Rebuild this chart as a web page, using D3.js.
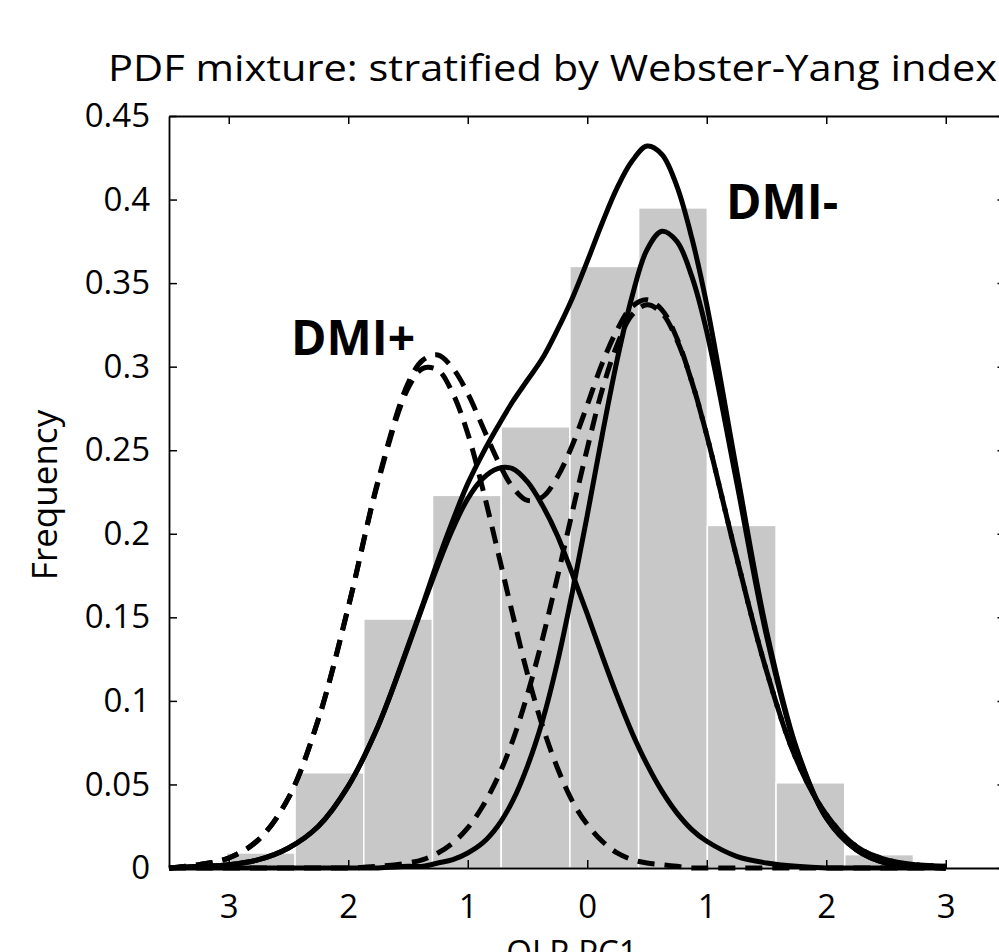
<!DOCTYPE html>
<html>
<head>
<meta charset="utf-8">
<script src="https://cdn.jsdelivr.net/npm/d3@7"></script>
<style>
  body { margin: 0; background: #fff; }
  svg { display: block; }
</style>
</head>
<body>
<div id="chart"></div>
<script>
const width = 999;
const height = 952;
const plotLeft = 169;
const plotRight = 1005.5;
const plotTop = 116;
const plotBottom = 868;

// histogram of OLR PC1
const binEdges = [-3.02, -2.445, -1.87, -1.295, -0.72, -0.145, 0.43, 1.005, 1.58, 2.155, 2.73];
const binFreq = [0.009, 0.057, 0.149, 0.223, 0.264, 0.360, 0.395, 0.205, 0.051, 0.008];

// x positions where the pdf curves were read
const xGrid = [-3.5, -3.25, -3.0, -2.75, -2.5, -2.25, -2.0, -1.75, -1.5, -1.375, -1.25, -1.125,
  -1.0, -0.875, -0.75, -0.625, -0.5, -0.375, -0.25, -0.125, 0, 0.125, 0.25, 0.375, 0.5, 0.625,
  0.75, 0.875, 1.0, 1.25, 1.5, 1.75, 2.0, 2.25, 2.5, 2.75, 3.0];

// solid curves (DMI-)
const minusLow = [0.000, 0.001, 0.002, 0.005, 0.012, 0.025, 0.049, 0.085, 0.132, 0.157, 0.181, 0.203,
  0.221, 0.233, 0.239, 0.239, 0.231, 0.217, 0.199, 0.176, 0.152, 0.127, 0.103, 0.081, 0.062, 0.046,
  0.033, 0.023, 0.016, 0.007, 0.003, 0.001, 0.000, 0.000, 0.000, 0.000, 0.000];
const minusHigh = [0.000, 0.000, 0.000, 0.000, 0.000, 0.000, 0.000, 0.000, 0.001, 0.001, 0.003, 0.005,
  0.009, 0.015, 0.025, 0.040, 0.061, 0.088, 0.123, 0.165, 0.211, 0.259, 0.304, 0.342, 0.370, 0.381,
  0.375, 0.354, 0.321, 0.231, 0.139, 0.071, 0.030, 0.011, 0.003, 0.001, 0.000];
const minusMix = [0.000, 0.001, 0.002, 0.005, 0.012, 0.025, 0.049, 0.085, 0.133, 0.158, 0.184, 0.208,
  0.230, 0.248, 0.264, 0.279, 0.292, 0.305, 0.322, 0.341, 0.363, 0.386, 0.407, 0.423, 0.432, 0.427,
  0.408, 0.377, 0.337, 0.238, 0.142, 0.072, 0.030, 0.011, 0.003, 0.001, 0.000];

// dashed curves (DMI+)
const plusLow = [0.000, 0.002, 0.006, 0.017, 0.042, 0.089, 0.156, 0.231, 0.287, 0.299, 0.298, 0.284,
  0.260, 0.227, 0.190, 0.152, 0.116, 0.085, 0.060, 0.040, 0.026, 0.016, 0.009, 0.005, 0.003, 0.002,
  0.001, 0.000, 0.000, 0.000, 0.000, 0.000, 0.000, 0.000, 0.000, 0.000, 0.000];
const plusHigh = [0.000, 0.000, 0.000, 0.000, 0.000, 0.000, 0.000, 0.001, 0.003, 0.005, 0.009, 0.015,
  0.024, 0.037, 0.054, 0.076, 0.104, 0.137, 0.174, 0.213, 0.251, 0.286, 0.313, 0.331, 0.337, 0.332,
  0.316, 0.291, 0.259, 0.186, 0.118, 0.065, 0.032, 0.013, 0.005, 0.002, 0.001];
const plusMix = [0.000, 0.002, 0.006, 0.017, 0.042, 0.089, 0.156, 0.232, 0.290, 0.304, 0.307, 0.299,
  0.284, 0.264, 0.244, 0.228, 0.220, 0.222, 0.234, 0.253, 0.277, 0.302, 0.322, 0.336, 0.340, 0.334,
  0.317, 0.291, 0.259, 0.186, 0.118, 0.065, 0.032, 0.013, 0.005, 0.002, 0.001];

const xTicks = [-3, -2, -1, 0, 1, 2, 3];
const xTickLabels = ["3", "2", "1", "0", "1", "2", "3"];
const yTicks = [0, 0.05, 0.1, 0.15, 0.2, 0.25, 0.3, 0.35, 0.4, 0.45];
const yTickLabels = ["0", "0.05", "0.1", "0.15", "0.2", "0.25", "0.3", "0.35", "0.4", "0.45"];

const font = "'Open Sans', 'Noto Sans', sans-serif";

const svg = d3.select("#chart")
  .append("svg")
  .attr("width", width)
  .attr("height", height)
  .style("background", "#fff");

const x = d3.scaleLinear().domain([-3.5, 3.5]).range([plotLeft, plotRight]);
const y = d3.scaleLinear().domain([0, 0.45]).range([plotBottom, plotTop]);

// bars
svg.append("g")
  .selectAll("rect")
  .data(binFreq)
  .join("rect")
  .attr("x", (d, i) => x(binEdges[i]))
  .attr("y", d => y(d))
  .attr("width", (d, i) => x(binEdges[i + 1]) - x(binEdges[i]))
  .attr("height", d => y(0) - y(d))
  .attr("fill", "#c8c8c8")
  .attr("stroke", "#fff")
  .attr("stroke-width", 1.5);

// axes
function styleAxis(g) {
  g.select(".domain").attr("stroke", "#000").attr("stroke-width", 1.8);
  g.selectAll(".tick line").attr("stroke", "#000").attr("stroke-width", 1.5);
  g.selectAll("text").attr("font-family", font).attr("font-size", 33).attr("fill", "#000");
}

svg.append("g")
  .attr("transform", `translate(0,${plotBottom})`)
  .call(d3.axisBottom(x).tickValues(xTicks).tickSize(-8).tickSizeOuter(0)
    .tickFormat((d, i) => xTickLabels[i]))
  .call(styleAxis)
  .call(g => g.selectAll("text").attr("y", 50).attr("dy", 0));

svg.append("g")
  .attr("transform", `translate(0,${plotTop})`)
  .call(d3.axisTop(x).tickValues(xTicks).tickSize(-8).tickSizeOuter(0).tickFormat(""))
  .call(styleAxis);

svg.append("g")
  .attr("transform", `translate(${plotLeft},0)`)
  .call(d3.axisLeft(y).tickValues(yTicks).tickSize(-8).tickSizeOuter(0).tickPadding(19)
    .tickFormat((d, i) => yTickLabels[i]))
  .call(styleAxis);

svg.append("g")
  .attr("transform", `translate(${plotRight},0)`)
  .call(d3.axisRight(y).tickValues(yTicks).tickSize(-8).tickSizeOuter(0).tickFormat(""))
  .call(styleAxis);

// curves
const line = d3.line()
  .x((d, i) => x(xGrid[i]))
  .y(d => y(d))
  .curve(d3.curveCatmullRom.alpha(0.5));

const curves = [
  { values: minusLow, dash: null },
  { values: minusHigh, dash: null },
  { values: minusMix, dash: null },
  { values: plusLow, dash: "17,10" },
  { values: plusHigh, dash: "17,10" },
  { values: plusMix, dash: "17,10" }
];

svg.append("g")
  .selectAll("path")
  .data(curves)
  .join("path")
  .attr("d", d => line(d.values))
  .attr("fill", "none")
  .attr("stroke", "#000")
  .attr("stroke-width", 5)
  .attr("stroke-linejoin", "round")
  .attr("stroke-dasharray", d => d.dash);

// labels
svg.append("text")
  .attr("x", 108)
  .attr("y", 81)
  .attr("font-family", font)
  .attr("font-size", 37)
  .attr("textLength", 889)
  .attr("lengthAdjust", "spacingAndGlyphs")
  .text("PDF mixture: stratified by Webster-Yang index");

svg.append("text")
  .attr("transform", "translate(57,495) rotate(-90)")
  .attr("text-anchor", "middle")
  .attr("font-family", font)
  .attr("font-size", 35)
  .text("Frequency");

svg.append("text")
  .attr("x", 572)
  .attr("y", 964)
  .attr("text-anchor", "middle")
  .attr("font-family", font)
  .attr("font-size", 33)
  .text("OLR PC1");

svg.append("text")
  .attr("x", 291)
  .attr("y", 355)
  .attr("font-family", font)
  .attr("font-weight", 700)
  .attr("font-size", 48)
  .text("DMI+");

svg.append("text")
  .attr("x", 726)
  .attr("y", 219)
  .attr("font-family", font)
  .attr("font-weight", 700)
  .attr("font-size", 48)
  .text("DMI-");
</script>
</body>
</html>
